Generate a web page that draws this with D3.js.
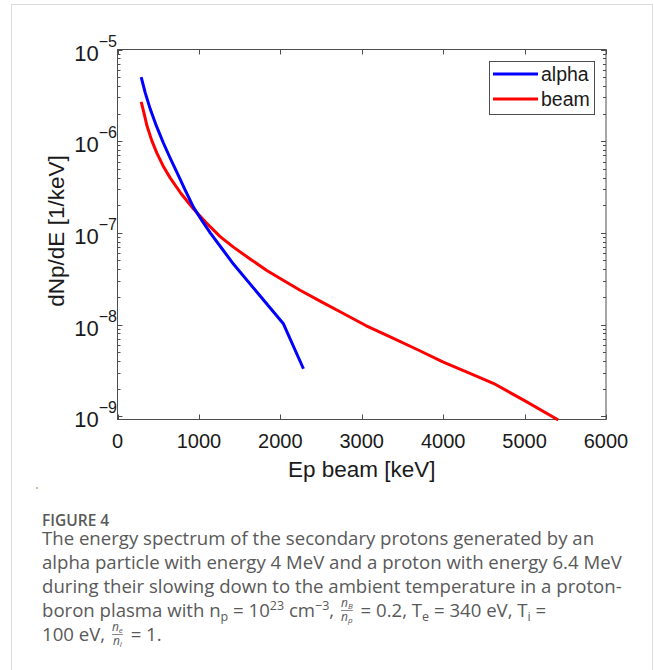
<!DOCTYPE html>
<html>
<head>
<meta charset="utf-8">
<script src="https://cdn.jsdelivr.net/npm/d3@7"></script>
<style>
  body { margin: 0; background: #fff; }
  svg { display: block; }
  .cap { font-family: "Open Sans", sans-serif; fill: #595959; white-space: pre; }
</style>
</head>
<body>
<div id="chart"></div>
<script>
// series (energy in keV, dNp/dE in 1/keV)
var alphaE = [291, 340, 402, 480, 565, 645, 730, 830, 934, 1040, 1139, 1280, 1424, 2038, 2284];
var alphaY = [5.01e-6, 3.39e-6, 2.24e-6, 1.45e-6, 9.5e-7, 6.6e-7, 4.57e-7, 2.95e-7, 1.9e-7,
  1.35e-7, 1.0e-7, 6.8e-8, 4.57e-8, 1.02e-8, 3.3e-9];
var beamE = [291, 330, 361, 420, 484, 560, 647, 780, 934, 1090, 1261, 1424, 1629, 1834, 2040,
  2243, 2500, 2734, 3050, 3389, 3700, 4002, 4300, 4616, 5000, 5414];
var beamY = [2.69e-6, 1.95e-6, 1.48e-6, 1.02e-6, 7.41e-7, 5.37e-7, 3.98e-7, 2.69e-7, 1.82e-7,
  1.29e-7, 9.12e-8, 7.0e-8, 5.19e-8, 3.89e-8, 3.02e-8, 2.37e-8, 1.78e-8, 1.38e-8, 9.77e-9,
  7.08e-9, 5.25e-9, 3.89e-9, 3.02e-9, 2.29e-9, 1.48e-9, 9.12e-10];
var seriesNames = ["alpha", "beam"];
var xTicks = [0, 1000, 2000, 3000, 4000, 5000, 6000];
var yExps = [-5, -6, -7, -8, -9];

var svg = d3.select("#chart").append("svg").attr("width", 654).attr("height", 670);

// card border
svg.append("rect").attr("x", 11.5).attr("y", 4.5).attr("width", 641).attr("height", 680)
  .attr("fill", "none").attr("stroke", "#dcdcdc");

// plot box
var pLeft = 117.5, pRight = 606, pTop = 49.5, pBottom = 419.5;
var x = d3.scaleLinear().domain([0, 6000]).range([pLeft, pRight]);
var y = d3.scaleLog().domain([Math.pow(10, -9.035), 1e-5]).range([pBottom, pTop]);

var axisColor = "#4d4d4d";
var labelFont = "'Liberation Sans', Arial, sans-serif";

// minor ticks on the log axis (2..9 of each decade)
var minor = [];
yExps.forEach(function(e) {
  for (var k = 2; k <= 9; k++) {
    var v = k * Math.pow(10, e);
    if (v < 1e-5) minor.push(v);
  }
});

// ticks: MATLAB style, inward, on all four sides
var tk = svg.append("g").attr("stroke", axisColor).attr("stroke-width", 1);
xTicks.forEach(function(t) {
  var px = Math.round(x(t)) + 0.5;
  tk.append("line").attr("x1", px).attr("x2", px).attr("y1", pBottom).attr("y2", pBottom - 5);
  tk.append("line").attr("x1", px).attr("x2", px).attr("y1", pTop).attr("y2", pTop + 5);
});
yExps.forEach(function(e) {
  var py = Math.round(y(Math.pow(10, e))) + 0.5;
  tk.append("line").attr("x1", pLeft).attr("x2", pLeft + 5).attr("y1", py).attr("y2", py);
  tk.append("line").attr("x1", pRight).attr("x2", pRight - 5).attr("y1", py).attr("y2", py);
});
minor.forEach(function(v) {
  var py = Math.round(y(v)) + 0.5;
  tk.append("line").attr("x1", pLeft).attr("x2", pLeft + 3).attr("y1", py).attr("y2", py);
  tk.append("line").attr("x1", pRight).attr("x2", pRight - 3).attr("y1", py).attr("y2", py);
});

svg.append("rect").attr("x", pLeft).attr("y", pTop).attr("width", pRight - pLeft).attr("height", pBottom - pTop)
  .attr("fill", "none").attr("stroke", axisColor).attr("stroke-width", 1);

// x tick labels
svg.append("g").selectAll("text").data(xTicks).enter().append("text")
  .attr("x", function(d) { return x(d); })
  .attr("y", 448)
  .attr("text-anchor", "middle")
  .style("font-family", labelFont)
  .style("font-size", "20px")
  .attr("fill", "#1a1a1a")
  .text(function(d) { return d; });

// y tick labels 10^e
var yl = svg.append("g").selectAll("text").data(yExps).enter().append("text")
  .attr("x", 117)
  .attr("y", function(d) { return y(Math.pow(10, d)) + 11; })
  .attr("text-anchor", "end")
  .style("font-family", labelFont)
  .attr("fill", "#1a1a1a");
yl.append("tspan").style("font-size", "22px").text("10");
yl.append("tspan").style("font-size", "16px").attr("dy", -14).text(function(d) { return "\u2212" + Math.abs(d); });

// axis titles
svg.append("text").attr("x", (pLeft + pRight) / 2).attr("y", 477).attr("text-anchor", "middle")
  .style("font-family", labelFont).style("font-size", "22.5px")
  .attr("fill", "#1a1a1a").text("Ep beam [keV]");
svg.append("text").attr("transform", "translate(64,231) rotate(-90)").attr("text-anchor", "middle")
  .style("font-family", labelFont).style("font-size", "22.5px")
  .attr("fill", "#1a1a1a").text("dNp/dE [1/keV]");

// curves
var line = d3.line()
  .x(function(d) { return x(d[0]); })
  .y(function(d) { return y(d[1]); });

var colors = { alpha: "#0000ff", beam: "#ff0000" };
var series = {
  alpha: d3.zip(alphaE, alphaY),
  beam: d3.zip(beamE, beamY)
};
["beam", "alpha"].forEach(function(name) {
  svg.append("path").datum(series[name]).attr("d", line)
    .attr("fill", "none").attr("stroke", colors[name]).attr("stroke-width", 3)
    .attr("stroke-linejoin", "round");
});

// legend
var lg = svg.append("g");
lg.append("rect").attr("x", 489.5).attr("y", 61.5).attr("width", 105).attr("height", 53)
  .attr("fill", "#fff").attr("stroke", axisColor);
seriesNames.forEach(function(name, i) {
  var ly = 74 + i * 25;
  lg.append("line").attr("x1", 493).attr("x2", 538).attr("y1", ly).attr("y2", ly)
    .attr("stroke", colors[name]).attr("stroke-width", 3);
  lg.append("text").attr("x", 541).attr("y", ly + 7)
    .style("font-family", labelFont).style("font-size", "19.5px")
    .attr("fill", "#1a1a1a").text(name);
});

// stray dot in the scan
svg.append("circle").attr("cx", 37).attr("cy", 488).attr("r", 1).attr("fill", "#b5ad80");

// caption
svg.append("text").attr("class", "cap").attr("x", 42).attr("y", 526)
  .style("font-size", "15.5px").style("font-weight", 600).attr("fill", "#666").text("FIGURE 4");

var capSize = 18.6;
var plain = [
  "The energy spectrum of the secondary protons generated by an",
  "alpha particle with energy 4 MeV and a proton with energy 6.4 MeV",
  "during their slowing down to the ambient temperature in a proton-"
];
plain.forEach(function(s, i) {
  svg.append("text").attr("class", "cap").attr("x", 42).attr("y", 545 + i * 24)
    .style("font-size", capSize + "px").text(s);
});

function rich(x0, y0, segs) {
  var cx = x0;
  segs.forEach(function(s) {
    var t;
    if (s[0] === "t") {
      t = svg.append("text").attr("class", "cap").attr("x", cx).attr("y", y0)
        .style("font-size", capSize + "px").text(s[1]);
      cx += t.node().getComputedTextLength();
    } else if (s[0] === "sub" || s[0] === "sup") {
      t = svg.append("text").attr("class", "cap").attr("x", cx)
        .attr("y", s[0] === "sub" ? y0 + 4 : y0 - 7)
        .style("font-size", "12.5px").text(s[1]);
      cx += t.node().getComputedTextLength();
    } else {
      // stacked fraction n_a / n_b
      cx += 2;
      var num = svg.append("text").attr("class", "cap").attr("y", y0 - 10).style("font-size", "12px");
      num.append("tspan").style("font-style", "italic").text(s[1]);
      num.append("tspan").attr("dy", 1.5).style("font-size", "8px").style("font-style", "italic").text(s[2]);
      var den = svg.append("text").attr("class", "cap").attr("y", y0 + 4).style("font-size", "12px");
      den.append("tspan").style("font-style", "italic").text(s[3]);
      den.append("tspan").attr("dy", 1.5).style("font-size", "8px").style("font-style", "italic").text(s[4]);
      var w = Math.max(num.node().getComputedTextLength(), den.node().getComputedTextLength());
      num.attr("x", cx + (w - num.node().getComputedTextLength()) / 2);
      den.attr("x", cx + (w - den.node().getComputedTextLength()) / 2);
      svg.append("line").attr("x1", cx).attr("x2", cx + w).attr("y1", y0 - 6.5).attr("y2", y0 - 6.5)
        .attr("stroke", "#595959").attr("stroke-width", 0.7);
      cx += w + 3;
    }
  });
}

rich(42, 617, [["t", "boron plasma with n"], ["sub", "p"], ["t", " = 10"], ["sup", "23"], ["t", " cm"],
  ["sup", "\u22123"], ["t", ", "], ["frac", "n", "B", "n", "p"], ["t", " = 0.2, T"], ["sub", "e"],
  ["t", " = 340 eV, T"], ["sub", "i"], ["t", " ="]]);
rich(42, 641, [["t", "100 eV, "], ["frac", "n", "e", "n", "i"], ["t", " = 1."]]);
</script>
</body>
</html>
